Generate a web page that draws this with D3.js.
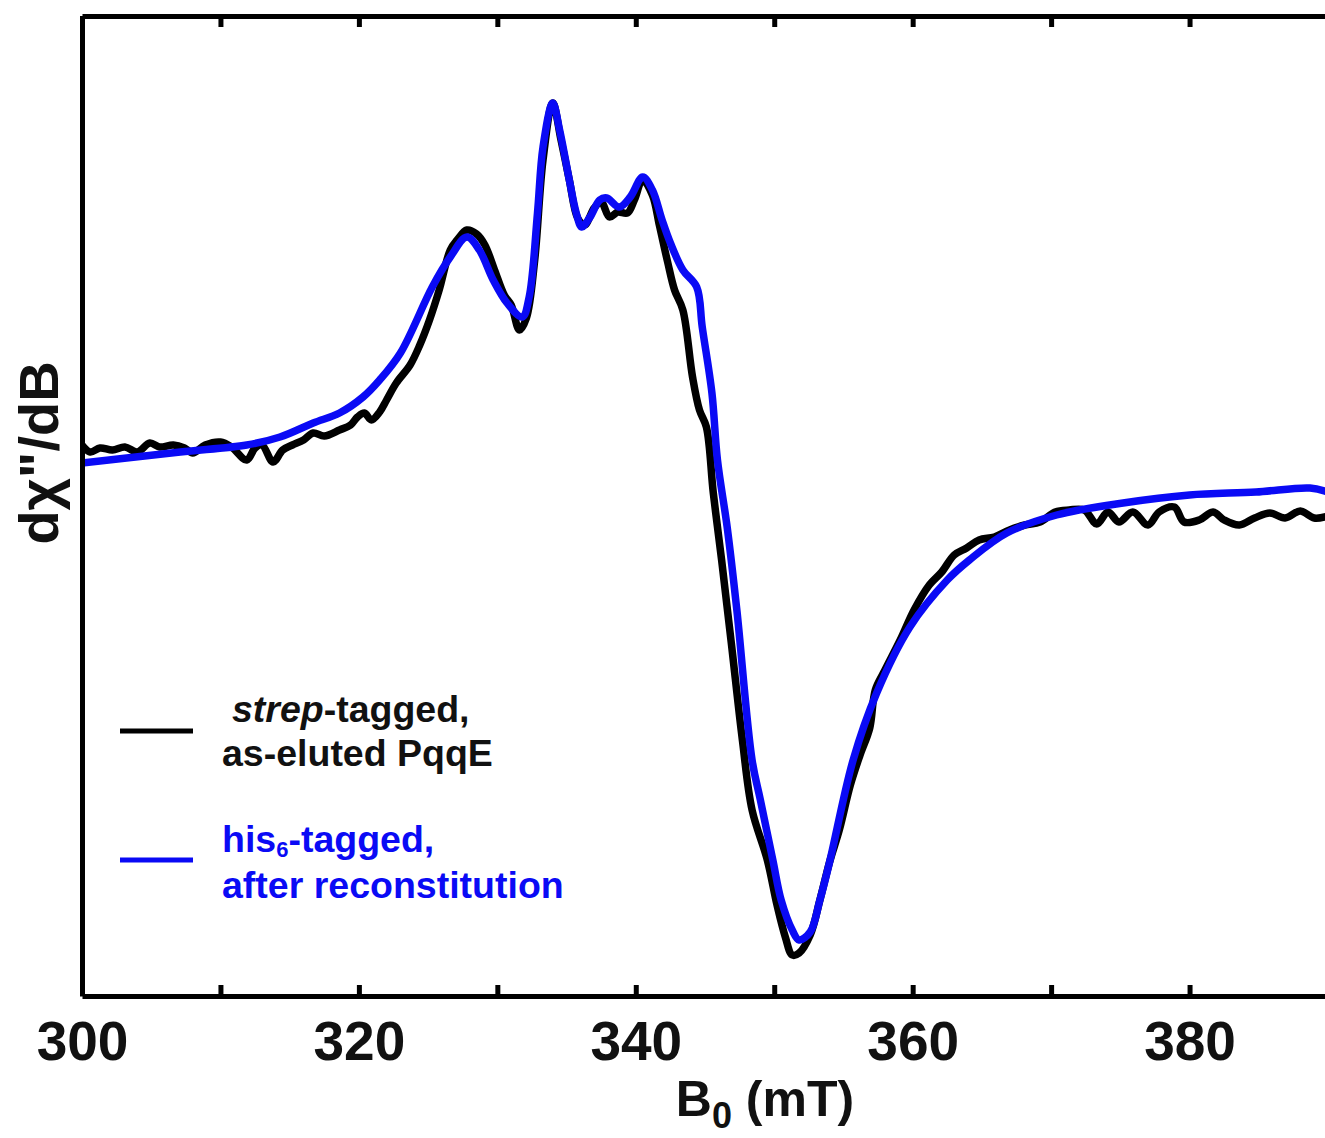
<!DOCTYPE html>
<html>
<head>
<meta charset="utf-8">
<script src="https://cdn.jsdelivr.net/npm/d3@7"></script>
<style>
  body { margin: 0; background: #fff; }
  text { font-family: "Liberation Sans", Arial, sans-serif; font-weight: bold; }
</style>
</head>
<body>
<div id="chart"></div>
<script>
// EPR spectra of PqqE (first derivative, arbitrary units)

// strep-tagged, as-eluted PqqE (black)
const strepField = [300.0, 300.6, 301.3, 302.2, 303.1, 304.0, 304.9, 305.6, 306.6, 307.4, 308.0, 308.9,
  310.0, 310.8, 311.9, 312.5, 313.0, 313.8, 314.5, 315.2, 316.0, 316.7, 317.5, 318.6, 319.4, 319.9,
  320.4, 320.9, 321.5, 322.0, 322.7, 323.7, 324.4, 325.1, 325.8, 326.6, 327.1, 327.8, 328.5, 329.1,
  329.8, 330.5, 331.0, 331.6, 332.1, 332.7, 333.3, 334.0, 334.6, 335.2, 335.8, 336.3, 337.0, 337.5,
  338.1, 338.7, 339.4, 339.9, 340.5, 341.2, 341.7, 342.3, 342.8, 343.4, 344.1, 344.6, 345.1, 345.6,
  346.2, 346.9, 347.7, 348.4, 349.5, 350.2, 350.8, 351.3, 351.8, 352.6, 353.3, 354.0, 354.7, 355.5,
  356.2, 356.9, 357.3, 358.0, 359.1, 360.1, 361.2, 362.1, 363.0, 363.9, 364.8, 365.9, 367.0, 368.1,
  369.2, 370.3, 371.3, 372.4, 373.3, 374.1, 374.9, 375.9, 377.0, 377.8, 378.9, 379.6, 380.7, 381.7,
  382.5, 383.6, 384.7, 385.8, 386.9, 388.0, 389.0, 390.0];
const strepSignal = [6.0, 5.3, 5.7, 5.5, 5.8, 5.3, 6.2, 5.8, 6.0, 5.7, 5.2, 6.0,
  6.3, 5.8, 4.5, 5.7, 6.0, 4.3, 5.5, 6.0, 6.5, 7.2, 6.9, 7.5, 8.0, 8.8,
  9.2, 8.5, 9.3, 10.5, 12.2, 14.0, 16.0, 18.5, 21.5, 25.5, 26.5, 27.5, 27.1, 26.0,
  23.5, 21.0, 20.0, 17.5, 18.7, 24.5, 34.5, 40.2, 36.5, 32.5, 28.7, 28.0, 29.7, 30.3,
  28.8, 29.3, 29.2, 30.5, 32.5, 31.0, 28.0, 24.3, 21.5, 19.5, 12.8, 9.5, 7.8, 1.2,
  -5.5, -13.8, -23.5, -30.5, -35.5, -40.0, -43.2, -45.0, -44.8, -43.0, -39.5, -35.7, -32.5, -28.0,
  -25.0, -22.3, -18.5, -16.5, -13.5, -10.5, -8.0, -6.7, -5.0, -4.3, -3.5, -3.2, -2.5, -2.0,
  -1.7, -0.7, -0.5, -0.5, -1.9, -0.7, -1.7, -0.7, -2.0, -0.7, -0.2, -1.7, -1.5, -0.7,
  -1.5, -2.0, -1.3, -0.8, -1.3, -0.6, -1.3, -1.1];

// his6-tagged, after reconstitution (blue)
const hisField = [300.0, 307.1, 311.9, 314.3, 316.7, 318.6, 320.3, 321.5, 323.0, 325.3, 326.6, 327.8,
  328.7, 329.7, 330.7, 331.8, 332.3, 332.9, 333.3, 334.0, 334.5, 335.2, 335.7, 336.1, 336.7, 337.4,
  337.9, 338.8, 339.6, 340.5, 341.2, 341.9, 342.5, 343.4, 344.4, 344.8, 345.5, 345.9, 346.6, 347.3,
  348.4, 349.0, 349.9, 350.5, 351.3, 351.8, 352.6, 353.3, 354.0, 355.7, 357.4, 359.8, 362.5, 364.1,
  366.8, 370.4, 375.2, 380.0, 384.8, 388.7, 390.0];
const hisSignal = [4.2, 5.3, 6.0, 6.8, 8.2, 9.2, 10.8, 12.5, 15.2, 21.8, 24.8, 26.8,
  25.5, 22.5, 20.2, 18.8, 20.8, 29.2, 35.8, 40.2, 37.5, 32.5, 29.2, 27.8, 28.8, 30.5,
  30.7, 29.8, 30.8, 32.8, 31.5, 28.5, 26.2, 23.5, 21.8, 17.8, 11.2, 4.5, -2.2, -10.5,
  -25.5, -29.5, -35.5, -39.5, -42.5, -43.5, -42.7, -39.5, -35.7, -25.5, -18.8, -12.2, -7.5, -5.5,
  -2.8, -1.0, 0.2, 1.0, 1.3, 1.7, 1.3];

const xTicks = [300, 310, 320, 330, 340, 350, 360, 370, 380, 390];
const xTickLabels = [300, 320, 340, 360, 380];

const margin = { top: 16, left: 82, right: 0, bottom: 142 },
  width = 1246,
  height = 980;

const svg = d3.select("#chart")
  .append("svg")
  .attr("width", 1325)
  .attr("height", 1138);

const g = svg.append("g")
  .attr("transform", "translate(" + margin.left + "," + margin.top + ")");

const x = d3.scaleLinear().domain([300, 390]).range([0, width]);
const y = d3.scaleLinear().domain([-49.1, 48.9]).range([height, 0]);

g.append("clipPath").attr("id", "plotclip")
  .append("rect").attr("width", width).attr("height", height);

// curves
const line = d3.line()
  .x((d) => x(d[0]))
  .y((d) => y(d[1]))
  .curve(d3.curveCatmullRom.alpha(0.5));

const series = [
  { field: strepField, signal: strepSignal, color: "#000000" },
  { field: hisField, signal: hisSignal, color: "#0a0af5" }
];

g.append("g").attr("clip-path", "url(#plotclip)")
  .selectAll("path")
  .data(series)
  .enter()
  .append("path")
  .attr("fill", "none")
  .attr("stroke", (d) => d.color)
  .attr("stroke-width", 7.5)
  .attr("stroke-linejoin", "round")
  .attr("stroke-linecap", "round")
  .attr("d", (d) => line(d.field.map((f, i) => [f, d.signal[i]])));

// axes: box with inward ticks
const fmt = (d) => (xTickLabels.includes(d) ? d : "");

const xAxis = g.append("g")
  .attr("transform", "translate(0," + height + ")")
  .call(d3.axisBottom(x).tickValues(xTicks).tickFormat(fmt)
    .tickSizeInner(-11).tickSizeOuter(0).tickPadding(25));

const xTop = g.append("g")
  .call(d3.axisTop(x).tickValues(xTicks).tickFormat("")
    .tickSizeInner(-11).tickSizeOuter(0));

const yLeft = g.append("g").call(d3.axisLeft(y).tickValues([]).tickSizeOuter(0));
const yRight = g.append("g").attr("transform", "translate(" + width + ",0)")
  .call(d3.axisRight(y).tickValues([]).tickSizeOuter(0));

[xAxis, xTop, yLeft, yRight].forEach((a) => {
  a.select(".domain").attr("stroke", "#000").attr("stroke-width", 5);
  a.selectAll(".tick line").attr("stroke", "#000").attr("stroke-width", 5);
});

xAxis.selectAll(".tick text")
  .attr("fill", "#111")
  .style("font-family", '"Liberation Sans", Arial, sans-serif')
  .style("font-weight", "bold")
  .style("font-size", "55px");

// axis titles
const xLabel = svg.append("text")
  .attr("x", 765)
  .attr("y", 1116)
  .attr("text-anchor", "middle")
  .attr("fill", "#111")
  .style("font-size", "50px");
xLabel.append("tspan").text("B");
xLabel.append("tspan").attr("dy", 12).style("font-size", "36px").text("0");
xLabel.append("tspan").attr("dy", -12).text(" (mT)");

svg.append("text")
  .attr("transform", "translate(58,453) rotate(-90)")
  .attr("text-anchor", "middle")
  .attr("fill", "#111")
  .style("font-size", "56px")
  .text("dχ\"/dB");

// legend
const legend = svg.append("g");

legend.append("line")
  .attr("x1", 120).attr("x2", 193)
  .attr("y1", 731).attr("y2", 731)
  .attr("stroke", "#000").attr("stroke-width", 5);

const t1 = legend.append("text").attr("x", 232).attr("y", 722)
  .attr("fill", "#111").style("font-size", "37.5px");
t1.append("tspan").style("font-style", "italic").text("strep");
t1.append("tspan").text("-tagged,");

legend.append("text").attr("x", 222).attr("y", 766)
  .attr("fill", "#111").style("font-size", "37.5px")
  .text("as-eluted PqqE");

legend.append("line")
  .attr("x1", 120).attr("x2", 193)
  .attr("y1", 860).attr("y2", 860)
  .attr("stroke", "#0a0af5").attr("stroke-width", 5);

const t2 = legend.append("text").attr("x", 222).attr("y", 852)
  .attr("fill", "#0a0af5").style("font-size", "37.5px");
t2.append("tspan").text("his");
t2.append("tspan").attr("dy", 5).style("font-size", "22px").text("6");
t2.append("tspan").attr("dy", -5).text("-tagged,");

legend.append("text").attr("x", 222).attr("y", 898)
  .attr("fill", "#0a0af5").style("font-size", "37.5px")
  .text("after reconstitution");
</script>
</body>
</html>
